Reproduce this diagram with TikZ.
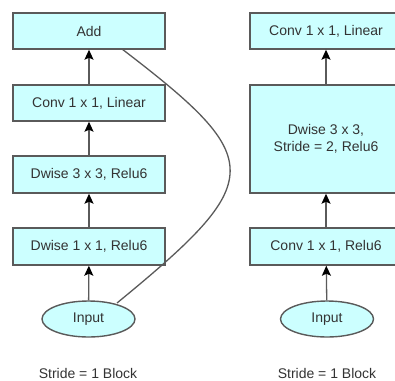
\documentclass[tikz,border=0pt]{standalone}
\usepackage{fontspec}
\setmainfont{Liberation Sans}
\usetikzlibrary{arrows.meta}
\definecolor{boxfill}{HTML}{CCFFFF}
\definecolor{boxline}{HTML}{5A5A5A}
\definecolor{txt}{HTML}{333333}
\tikzset{
  blk/.style={draw=boxline, fill=boxfill, line width=1.4pt, minimum width=152pt, inner sep=0pt, align=center, font=\fontsize{14}{17}\selectfont, text=txt},
  inp/.style={draw=boxline, fill=boxfill, ellipse, line width=1.4pt, minimum width=93pt, minimum height=36pt, inner sep=0pt, font=\fontsize{14}{17}\selectfont, text=txt},
  conn/.style={draw=boxline, line width=1.3pt, -{Stealth[length=10pt,width=9pt,inset=2pt,color=black]}},
  lbl/.style={font=\fontsize{14}{17}\selectfont, text=txt}
}
\usetikzlibrary{shapes.geometric}
\begin{document}
\begin{tikzpicture}[x=1pt,y=-1pt]
\useasboundingbox (0,0) rectangle (395,380);
\clip (0,0) rectangle (395,380);
% left column
\node[blk, minimum height=36pt] (add) at (89,31) {Add};
\node[blk, minimum height=36pt] (lin) at (89,103) {Conv 1 x 1, Linear};
\node[blk, minimum height=37pt] (dw3) at (89,174.5) {Dwise 3 x 3, Relu6};
\node[blk, minimum height=37pt] (dw1) at (89,246.5) {Dwise 1 x 1, Relu6};
\node[inp] (in1) at (88.5,319) {Input};
\node[lbl] (s1) at (88,373) {Stride = 1 Block};
\draw[conn] (in1) -- (dw1);
\draw[conn] (dw1) -- (dw3);
\draw[conn] (dw3) -- (lin);
\draw[conn] (lin) -- (add);
\coordinate (cs) at (122,49);
\coordinate (ce) at (117,303);
\draw[draw=boxline, line width=1.3pt] (cs) .. controls (267,160) and (267,180) .. (ce);
% right column
\node[blk, minimum height=36pt] (rlin) at (326,31) {Conv 1 x 1, Linear};
\node[blk, minimum height=108pt] (rdw) at (326,139) {Dwise 3 x 3,\\Stride = 2, Relu6};
\node[blk, minimum height=37pt] (rc) at (326,246.5) {Conv 1 x 1, Relu6};
\node[inp] (in2) at (327,319) {Input};
\node[lbl] (s2) at (327,373) {Stride = 1 Block};
\draw[conn] (in2) -- (rc);
\draw[conn] (rc) -- (rdw);
\draw[conn] (rdw) -- (rlin);
\end{tikzpicture}
\end{document}
